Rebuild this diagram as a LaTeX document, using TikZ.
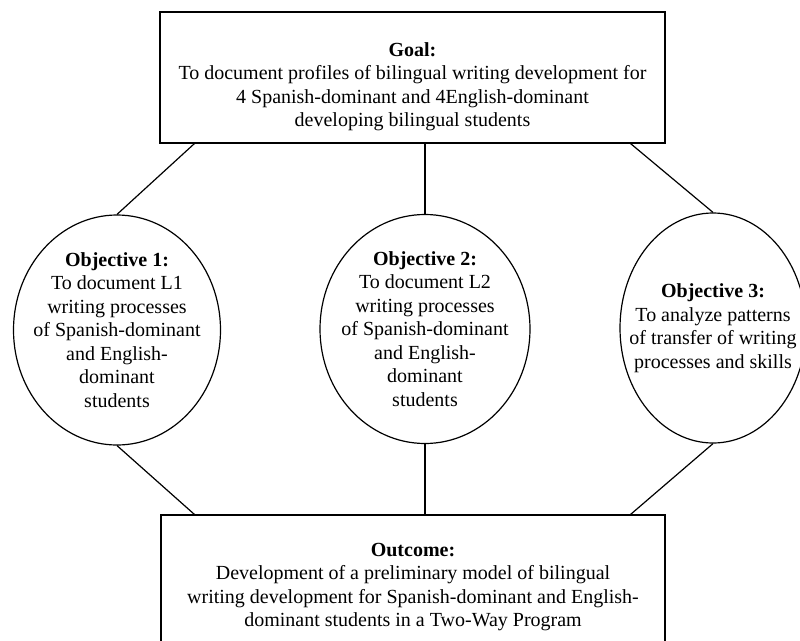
\documentclass[tikz,border=0pt]{standalone}
\usepackage{fontspec}
\setmainfont{Liberation Serif}
\usetikzlibrary{shapes.geometric}
\begin{document}
\begin{tikzpicture}[x=1pt,y=1pt,
  txt/.style={align=center, inner sep=0pt, font=\fontsize{20}{23.5}\selectfont},
  box/.style={draw, line width=1.2pt, inner sep=0pt},
  obj/.style={draw, ellipse, line width=1.2pt, inner sep=0pt},
  conn/.style={line width=1.2pt}]
\clip (0,0) rectangle (800,-640);
\node[box, minimum width=505pt, minimum height=131pt] (goal) at (412.5,-77.5) {};
\node[txt] (goalt) at ([yshift=-9pt]goal.center)
  {\textbf{Goal:}\\To document profiles of bilingual writing development for\\4 Spanish-dominant and 4English-dominant\\developing bilingual students};
\node[box, minimum width=504pt, minimum height=134pt] (out) at (413,-582) {};
\node[txt] (outt) at ([yshift=-5pt]out.center)
  {\textbf{Outcome:}\\Development of a preliminary model of bilingual\\writing development for Spanish-dominant and English-\\dominant students in a Two-Way Program};
\node[obj, minimum width=207pt, minimum height=230pt] (o1) at (117,-330) {};
\node[obj, minimum width=210pt, minimum height=229pt] (o2) at (425,-329) {};
\node[obj, minimum width=186pt, minimum height=230pt] (o3) at (713,-328) {};
\node[txt] (o1t) at (o1.center) {\textbf{Objective 1:}\\To document L1\\writing processes\\of Spanish-dominant\\and English-\\dominant\\students};
\node[txt] (o2t) at (o2.center) {\textbf{Objective 2:}\\To document L2\\writing processes\\of Spanish-dominant\\and English-\\dominant\\students};
\node[txt] (o3t) at (o3.center) {\textbf{Objective 3:}\\To analyze patterns\\of transfer of writing\\processes and skills};
\draw[conn] ([xshift=35pt]goal.south west) -- (o1.north);
\draw[conn] (o2.north) -- (o2.north |- goal.south);
\draw[conn] ([xshift=-35pt]goal.south east) -- (o3.north);
\draw[conn] (o1.south) -- ([xshift=34pt]out.north west);
\draw[conn] (o2.south) -- (o2.south |- out.north);
\draw[conn] (o3.south) -- ([xshift=-35pt]out.north east);
\end{tikzpicture}
\end{document}
